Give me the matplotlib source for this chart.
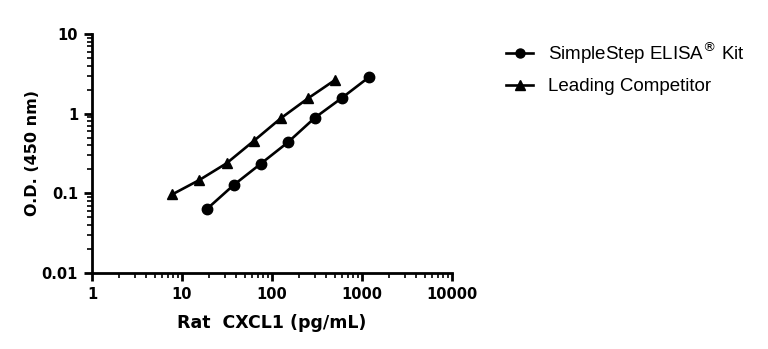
import numpy as np
import matplotlib
matplotlib.use("Agg")
import matplotlib.pyplot as plt
from matplotlib.ticker import LogLocator, FixedLocator, NullFormatter

# data
kit_conc = [18.75, 37.5, 75, 150, 300, 600, 1200]
kit_od = [0.063, 0.127, 0.235, 0.436, 0.89, 1.58, 2.88]
comp_conc = [7.8, 15.6, 31.25, 62.5, 125, 250, 500]
comp_od = [0.097, 0.147, 0.238, 0.453, 0.873, 1.55, 2.64]

x_ticks = [1, 10, 100, 1000, 10000]
x_labels = ["1", "10", "100", "1000", "10000"]
y_ticks = [0.01, 0.1, 1, 10]
y_labels = ["0.01", "0.1", "1", "10"]

fig = plt.figure(figsize=(7.68, 3.49), dpi=100)
ax = fig.add_axes([0.1198, 0.2178, 0.4687, 0.6848])

ax.plot(kit_conc, kit_od, color="black", lw=1.9, marker="o", ms=7.5,
        label="SimpleStep ELISA$^{\\circledR}$ Kit")
ax.plot(comp_conc, comp_od, color="black", lw=1.9, marker="^", ms=7.5,
        label="Leading Competitor")

ax.set_xscale("log")
ax.set_yscale("log")
ax.set_xlim(1, 10000)
ax.set_ylim(0.01, 10)

ax.xaxis.set_major_locator(FixedLocator(x_ticks))
ax.set_xticklabels(x_labels)
ax.yaxis.set_major_locator(FixedLocator(y_ticks))
ax.set_yticklabels(y_labels)
ax.xaxis.set_minor_locator(LogLocator(base=10, subs=np.arange(2, 10)))
ax.yaxis.set_minor_locator(LogLocator(base=10, subs=np.arange(2, 10)))
ax.xaxis.set_minor_formatter(NullFormatter())
ax.yaxis.set_minor_formatter(NullFormatter())

for s in ["top", "right"]:
    ax.spines[s].set_visible(False)
for s in ["left", "bottom"]:
    ax.spines[s].set_linewidth(2)

ax.tick_params(which="major", length=6, width=2, direction="out", pad=4)
ax.tick_params(which="minor", length=3.5, width=1.2, direction="out")
for lab in ax.get_xticklabels() + ax.get_yticklabels():
    lab.set_fontweight("bold")
    lab.set_fontsize(10.5)

ax.set_xlabel("Rat  CXCL1 (pg/mL)", fontsize=12.5, fontweight="bold", labelpad=9)
ax.set_ylabel("O.D. (450 nm)", fontsize=11.5, fontweight="bold", labelpad=1)

leg = fig.legend(loc="upper left", bbox_to_anchor=(0.6375, 0.935), frameon=False,
                 prop={"family": "Liberation Sans", "size": 13.5},
                 handlelength=1.4, labelspacing=0.65, handletextpad=0.8)
for h in leg.legend_handles:
    h.set_markersize(6.5)

fig.savefig("out.png", dpi=100)
